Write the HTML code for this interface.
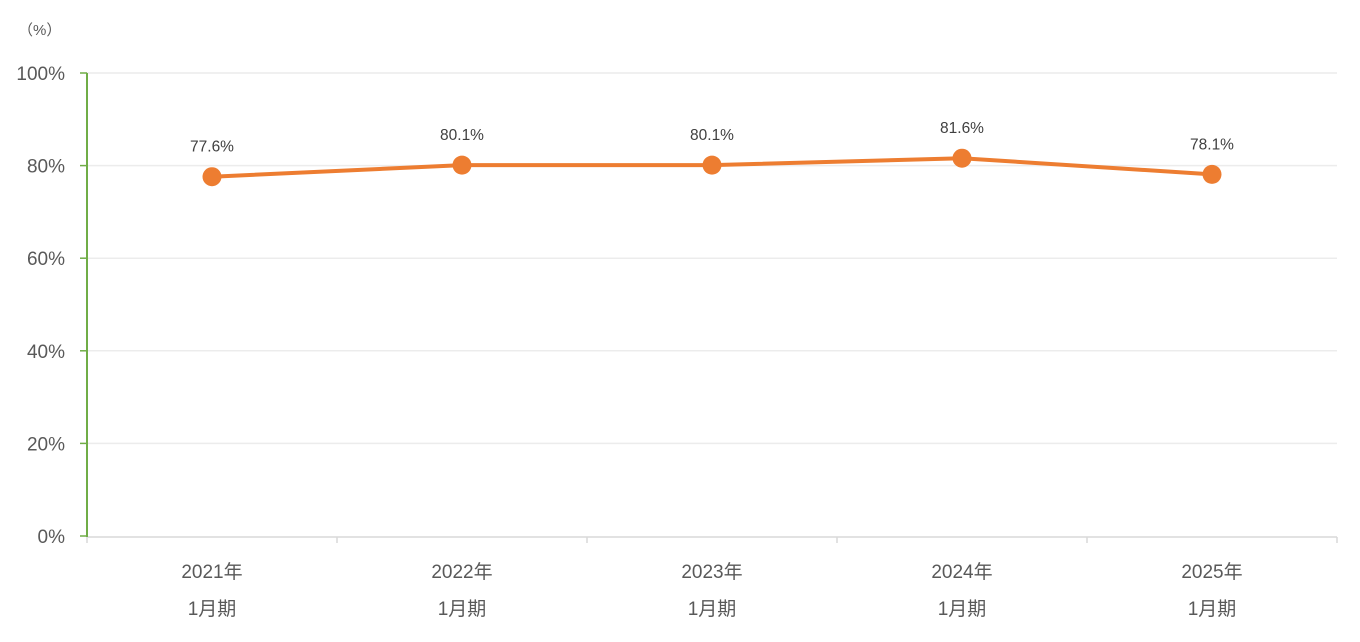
<!DOCTYPE html>
<html><head><meta charset="utf-8"><style>
html,body{margin:0;padding:0;background:#fff;width:1360px;height:642px;overflow:hidden}
svg{display:block;font-family:"Liberation Sans","Noto Sans CJK JP",sans-serif}
</style></head><body>
<svg id="chart" width="1360" height="642"></svg>
<script>
const categoriesYear = ["2021年","2022年","2023年","2024年","2025年"];
const categoriesMonth = ["1月期","1月期","1月期","1月期","1月期"];
const seriesValues = [77.6, 80.1, 80.1, 81.6, 78.1];
const valueLabels = ["77.6%","80.1%","80.1%","81.6%","78.1%"];
const yTicks = [0,20,40,60,80,100];
const yTickLabels = ["0%","20%","40%","60%","80%","100%"];

const NS="http://www.w3.org/2000/svg";
const svg=document.getElementById('chart');
const L=87,R=1337,T=73,B=536;
const x=i=>L+(R-L)/categoriesYear.length*(i+0.5);
const y=v=>B-(B-T)*v/100;
function mk(tag,attrs,parent){const e=document.createElementNS(NS,tag);for(const k in attrs)e.setAttribute(k,attrs[k]);(parent||svg).appendChild(e);return e;}

let t=mk('text',{x:18,y:35,'font-size':15,fill:'#595959'});t.textContent='（%）';



yTicks.forEach((v,i)=>{
  if(v>0){const g=mk('line',{x1:L,x2:R,y1:y(v),y2:y(v),stroke:'#ececec','stroke-width':1.5});
  
  }
  const tk=mk('line',{x1:80,x2:L,y1:y(v),y2:y(v),stroke:'#70AD47','stroke-width':1.5});
  
  
  const lb=mk('text',{x:65,y:y(v)+7,'font-size':19,fill:'#595959','text-anchor':'end'});
  lb.textContent=yTickLabels[i];
  
  
});
const base=mk('line',{x1:L,x2:R,y1:B+1,y2:B+1,stroke:'#d9d9d9','stroke-width':1.5});


for(let i=0;i<=categoriesYear.length;i++){
  const xx=L+(R-L)/categoriesYear.length*i;
  const tk=mk('line',{x1:xx,x2:xx,y1:B+1,y2:B+7,stroke:'#d9d9d9','stroke-width':1.5});
  
  
}
const ax=mk('line',{x1:L,x2:L,y1:T,y2:B+1,stroke:'#70AD47','stroke-width':2});



categoriesYear.forEach((c,i)=>{
  const a=mk('text',{x:x(i),y:578,'font-size':19,fill:'#595959','text-anchor':'middle'});a.textContent=c;
  
  
  const b=mk('text',{x:x(i),y:615,'font-size':19,fill:'#595959','text-anchor':'middle'});b.textContent=categoriesMonth[i];
  
  
});

const pl=mk('polyline',{points:seriesValues.map((v,i)=>x(i)+','+y(v)).join(' '),fill:'none',stroke:'#ED7D31','stroke-width':4,'stroke-linejoin':'round'});


seriesValues.forEach((v,i)=>{
  const c=mk('circle',{cx:x(i),cy:y(v),r:9.5,fill:'#ED7D31'});
  
  
  const l=mk('text',{x:x(i),y:y(v)-25,'font-size':15.5,fill:'#404040','text-anchor':'middle'});
  l.textContent=valueLabels[i];
  
  
});
</script>
</body></html>
